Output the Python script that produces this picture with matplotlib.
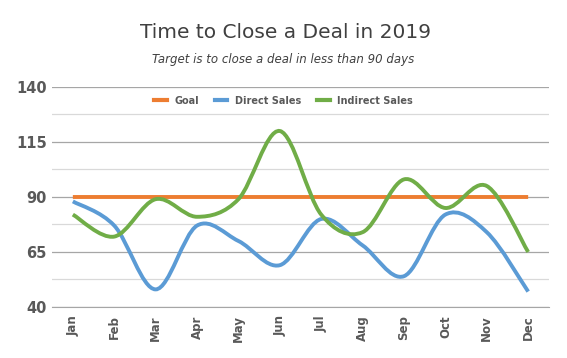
import numpy as np
import matplotlib
matplotlib.use("Agg")
import matplotlib.pyplot as plt
from matplotlib.path import Path
from matplotlib.patches import PathPatch
from matplotlib.lines import Line2D

# --- Data ---
months = ["Jan", "Feb", "Mar", "Apr", "May", "Jun",
          "Jul", "Aug", "Sep", "Oct", "Nov", "Dec"]
goal = [90] * 12
direct_sales = [88, 77, 48, 77, 70, 59, 80, 68, 54, 82, 74, 47]
indirect_sales = [82, 72, 89, 81, 89, 120, 82, 74, 98, 85, 95, 65]

series_names = ["Goal", "Direct Sales", "Indirect Sales"]
series_colors = ["#ED7D31", "#5B9BD5", "#70AD47"]

text_gray = "#595959"


def smooth_path(xs, ys):
    # Bezier path through the points (Excel-like smoothed line)
    xs = np.asarray(xs, float)
    ys = np.asarray(ys, float)
    n = len(xs)
    verts = [(xs[0], ys[0])]
    codes = [Path.MOVETO]
    for i in range(n - 1):
        i0 = max(i - 1, 0)
        i3 = min(i + 2, n - 1)
        c1 = (xs[i] + (xs[i + 1] - xs[i0]) / 6, ys[i] + (ys[i + 1] - ys[i0]) / 6)
        c2 = (xs[i + 1] - (xs[i3] - xs[i]) / 6, ys[i + 1] - (ys[i3] - ys[i]) / 6)
        verts += [c1, c2, (xs[i + 1], ys[i + 1])]
        codes += [Path.CURVE4] * 3
    return Path(verts, codes)


fig = plt.figure(figsize=(5.67, 3.58), dpi=100)
ax = fig.add_axes([0.092, 0.1425, 0.876, 0.6145])

x = np.arange(len(months))
for vals, name, col in zip([goal, direct_sales, indirect_sales], series_names, series_colors):
    patch = PathPatch(smooth_path(x, vals), facecolor="none", edgecolor=col,
                      lw=2.8, capstyle="butt", zorder=3)
    ax.add_patch(patch)

ax.set_xlim(-0.5, len(months) - 0.5)
ax.set_ylim(40, 140)
ax.set_yticks([40, 65, 90, 115, 140])
ax.set_yticks([52.5, 77.5, 102.5, 127.5], minor=True)
ax.set_xticks(x)
ax.set_xticklabels(months, rotation=90)

ax.grid(axis="y", which="major", color="#a6a6a6", lw=0.9)
ax.grid(axis="y", which="minor", color="#d9d9d9", lw=0.9)
ax.set_axisbelow(True)
for s in ["top", "right", "left"]:
    ax.spines[s].set_visible(False)
ax.spines["bottom"].set_color("#a6a6a6")
ax.tick_params(axis="both", which="both", length=0)
ax.tick_params(axis="y", pad=4)
ax.tick_params(axis="x", pad=6)
for lab in ax.get_yticklabels():
    lab.set_fontsize(10.5)
    lab.set_fontweight("bold")
    lab.set_color(text_gray)
for lab in ax.get_xticklabels():
    lab.set_fontsize(8.5)
    lab.set_fontweight("bold")
    lab.set_color(text_gray)

handles = [Line2D([], [], color=c, lw=3) for c in series_colors]
leg = ax.legend(handles, series_names, loc="upper center", bbox_to_anchor=(0.466, 1.0),
                ncol=3, frameon=False, handlelength=1.3, columnspacing=1.6,
                handletextpad=0.8, prop={"size": 7, "weight": "bold"})
for t in leg.get_texts():
    t.set_color(text_gray)

fig.text(0.503, 0.91, "Time to Close a Deal in 2019", ha="center", va="center",
         fontsize=14.5, color="#404040")
fig.text(0.5, 0.835, "Target is to close a deal in less than 90 days", ha="center",
         va="center", fontsize=8.5, style="italic", color="#404040")

fig.savefig("out.png", dpi=100)
